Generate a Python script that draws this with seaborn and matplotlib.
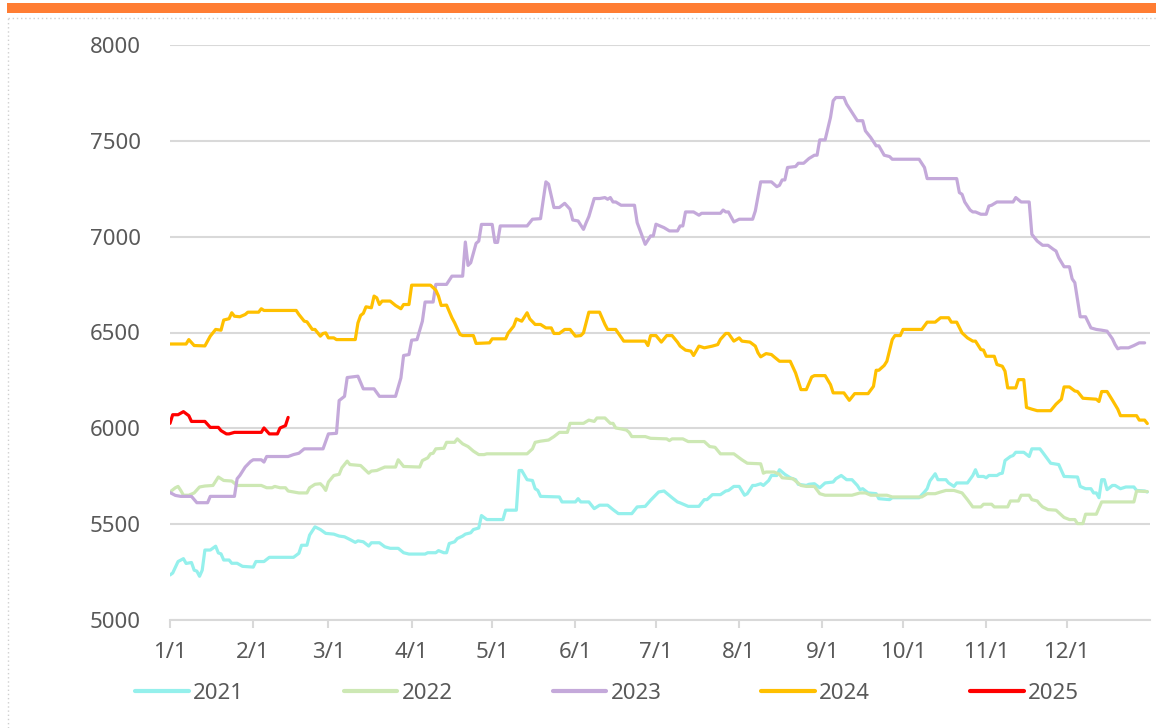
import matplotlib
matplotlib.use('Agg')
import matplotlib.pyplot as plt
from matplotlib.patches import Rectangle
from matplotlib.lines import Line2D
import seaborn as sns
import pandas as pd

# (day of year, price)
s2021 = [(0,5235),(1,5245),(3,5305),(5,5320),(6,5295),(8,5300),(9,5260),(10,5255),(11,5228),(12,5260),
         (13,5365),(15,5365),(17,5385),(18,5350),(19,5345),(20,5313),(22,5313),(23,5296),(25,5296),(27,5280),
         (31,5276),(32,5305),(35,5305),(37,5327),(46,5327),(48,5348),(49,5390),(51,5390),(52,5443),(54,5486),
         (56,5472),(58,5452),(61,5448),(63,5438),(65,5434),(67,5420),(69,5405),(70,5413),(72,5408),(74,5386),
         (75,5403),(78,5403),(80,5382),(82,5374),(85,5374),(87,5351),(89,5344),(95,5344),(96,5351),(99,5351),
         (100,5362),(102,5351),(103,5351),(104,5399),(106,5408),(107,5425),(109,5438),(110,5448),(112,5455),
         (113,5472),(115,5480),(116,5545),(118,5524),(124,5524),(125,5573),(129,5573),(130,5780),(131,5780),
         (133,5732),(135,5728),(136,5685),(137,5676),(138,5645),(145,5642),(146,5616),(151,5616),(152,5633),
         (153,5616),(156,5616),(158,5581),(160,5599),(163,5599),(165,5576),(167,5555),(172,5555),(174,5590),
         (177,5593),(179,5625),(182,5668),(184,5673),(187,5638),(189,5616),(190,5611),(193,5593),(197,5593),
         (199,5628),(200,5628),(202,5654),(205,5654),(207,5673),(208,5676),(210,5697),(212,5697),(214,5651),
         (215,5659),(217,5702),(218,5702),(220,5711),(221,5702),(223,5728),(224,5754),(226,5754),(227,5784),
         (229,5760),(231,5742),(233,5732),(234,5708),(237,5702),(238,5708),(240,5711),(242,5690),(244,5715),
         (247,5720),(248,5737),(250,5754),(252,5732),(254,5732),(256,5702),(257,5680),(258,5685),(260,5663),
         (263,5659),(264,5633),(268,5628),(269,5638),(279,5638),(281,5668),(282,5685),(283,5725),(285,5763),
         (286,5732),(289,5732),(290,5715),(292,5697),(293,5715),(297,5715),(299,5754),(300,5784),(301,5749),
         (303,5749),(304,5742),(305,5754),(308,5754),(309,5763),(310,5766),(311,5832),(313,5853),(314,5858),
         (315,5875),(318,5875),(320,5853),(321,5893),(324,5893),(325,5875),(328,5818),(331,5811),(333,5749),
         (338,5746),(339,5697),(341,5685),(343,5685),(344,5663),(345,5663),(346,5638),(347,5732),(348,5732),
         (349,5680),(351,5702),(352,5702),(354,5685),(356,5694),(359,5694),(360,5676),(363,5673),(364,5668)]

s2022 = [(0,5668),(2,5690),(3,5697),(4,5676),(5,5651),(7,5651),(9,5663),(11,5694),(13,5699),(16,5702),
         (18,5746),(20,5728),(23,5725),(25,5702),(34,5702),(36,5690),(38,5690),(39,5697),(41,5690),(43,5690),
         (44,5673),(46,5668),(48,5663),(51,5663),(52,5690),(54,5708),(56,5711),(57,5697),(58,5676),(59,5720),
         (61,5754),(63,5760),(64,5794),(66,5829),(67,5811),(71,5806),(74,5766),(75,5777),(77,5780),(80,5798),
         (84,5798),(85,5836),(87,5801),(93,5798),(94,5832),(96,5846),(97,5867),(98,5870),(99,5893),(102,5896),
         (103,5927),(106,5927),(107,5945),(109,5919),(111,5905),(113,5881),(115,5863),(117,5863),(118,5867),
         (133,5867),(135,5893),(136,5927),(138,5933),(141,5939),(143,5957),(145,5979),(148,5979),(149,6026),
         (154,6026),(156,6043),(158,6036),(159,6054),(162,6054),(164,6026),(165,6026),(166,6002),(168,5997),
         (170,5991),(171,5979),(172,5957),(177,5957),(179,5948),(185,5945),(186,5936),(187,5945),(191,5945),
         (193,5931),(199,5931),(201,5905),(203,5901),(205,5867),(210,5867),(213,5836),(215,5818),(220,5815),
         (221,5766),(222,5772),(225,5772),(227,5760),(228,5742),(232,5737),(235,5702),(237,5697),(240,5697),
         (242,5659),(244,5651),(254,5651),(257,5663),(259,5663),(261,5651),(267,5651),(269,5642),(280,5642),
         (282,5659),(285,5659),(287,5668),(289,5676),(292,5676),(295,5663),(297,5628),(299,5590),(302,5590),
         (303,5604),(306,5604),(307,5590),(312,5590),(313,5621),(316,5621),(317,5651),(320,5651),(321,5628),
         (323,5621),(324,5604),(325,5590),(327,5576),(330,5573),(333,5535),(335,5524),(337,5524),(338,5503),
         (340,5503),(341,5552),(345,5552),(347,5616),(359,5616),(360,5673),(364,5670)]

s2023 = [(0,5665),(2,5650),(4,5645),(8,5645),(10,5612),(14,5612),(15,5645),(24,5645),(25,5737),(26,5754),
         (28,5798),(30,5827),(31,5836),(34,5836),(35,5824),(36,5853),(44,5853),(46,5863),(48,5870),(50,5893),
         (57,5893),(59,5971),(62,5974),(63,6145),(65,6167),(66,6265),(70,6272),(72,6206),(76,6206),(78,6167),
         (84,6167),(86,6263),(87,6380),(89,6385),(90,6460),(92,6463),(94,6559),(95,6659),(98,6659),(99,6751),
         (103,6751),(105,6794),(109,6794),(110,6972),(111,6850),(112,6864),(114,6965),(115,6977),(116,7064),
         (120,7064),(121,6970),(122,6970),(123,7056),(133,7056),(135,7091),(138,7094),(140,7286),(141,7274),
         (143,7152),(145,7152),(147,7174),(149,7143),(150,7087),(152,7082),(154,7038),(155,7073),(156,7105),
         (158,7199),(160,7199),(162,7204),(163,7195),(164,7204),(165,7181),(166,7181),(168,7164),(173,7164),
         (174,7073),(177,6960),(179,7004),(180,7004),(181,7065),(184,7047),(186,7030),(189,7030),(190,7056),
         (191,7056),(192,7129),(195,7129),(197,7112),(198,7122),(205,7122),(206,7139),(207,7129),(208,7129),
         (210,7077),(212,7091),(217,7091),(218,7134),(220,7286),(224,7286),(226,7261),(227,7268),(228,7296),
         (229,7296),(230,7361),(233,7366),(234,7383),(236,7383),(238,7408),(240,7425),(241,7425),(242,7505),
         (244,7505),(246,7622),(247,7709),(248,7726),(251,7726),(252,7692),(254,7648),(256,7605),(258,7605),
         (259,7552),(261,7517),(263,7474),(264,7474),(266,7425),(268,7418),(269,7404),(279,7404),(281,7361),
         (282,7303),(293,7303),(294,7230),(295,7221),(296,7181),(298,7139),(299,7129),(300,7129),(302,7117),
         (304,7117),(305,7160),(306,7164),(308,7181),(314,7181),(315,7204),(317,7181),(320,7181),(321,7012),
         (323,6977),(325,6955),(327,6955),(329,6934),(330,6925),(331,6890),(333,6843),(335,6843),(336,6780),
         (337,6760),(339,6582),(341,6582),(343,6524),(345,6516),(347,6512),(349,6507),(351,6467),(352,6437),
         (353,6415),(354,6420),(357,6420),(359,6432),(361,6446),(363,6446)]

s2024 = [(0,6440),(6,6440),(7,6463),(9,6432),(13,6430),(15,6481),(17,6516),(19,6512),(20,6565),(22,6572),
         (23,6603),(24,6585),(26,6582),(28,6594),(29,6606),(33,6606),(34,6624),(35,6615),(47,6615),(48,6594),
         (50,6559),(51,6556),(53,6516),(54,6516),(56,6481),(57,6495),(58,6498),(59,6472),(61,6472),(62,6463),
         (69,6463),(70,6550),(71,6589),(72,6600),(73,6634),(75,6629),(76,6690),(77,6681),(78,6646),(79,6664),
         (82,6664),(84,6641),(86,6624),(87,6646),(89,6646),(90,6747),(97,6747),(99,6721),(100,6690),(101,6641),
         (103,6643),(105,6577),(106,6551),(108,6490),(109,6484),(113,6484),(114,6443),(119,6446),(120,6467),
         (125,6467),(126,6498),(128,6533),(129,6571),(131,6559),(133,6603),(134,6571),(136,6542),(138,6542),
         (140,6524),(142,6524),(143,6495),(145,6495),(147,6516),(149,6516),(151,6481),(153,6484),(154,6498),
         (156,6606),(160,6606),(162,6542),(163,6516),(166,6516),(169,6455),(177,6455),(178,6432),(179,6484),
         (181,6484),(183,6450),(185,6484),(187,6484),(189,6450),(190,6429),(192,6408),(194,6403),(195,6380),
         (197,6429),(199,6420),(202,6429),(204,6437),(205,6464),(207,6495),(208,6495),(210,6455),(212,6472),
         (213,6455),(216,6450),(218,6429),(219,6394),(220,6373),(222,6390),(224,6385),(225,6373),(227,6350),
         (231,6350),(233,6289),(235,6202),(237,6202),(239,6268),(240,6275),(244,6275),(246,6228),(247,6185),
         (251,6185),(253,6146),(255,6181),(260,6181),(262,6219),(263,6303),(264,6303),(266,6328),(267,6350),
         (269,6463),(270,6484),(272,6484),(273,6516),(280,6516),(282,6554),(285,6554),(287,6577),(290,6577),
         (291,6554),(293,6554),(295,6498),(297,6472),(299,6455),(300,6455),(302,6411),(303,6408),(304,6376),
         (307,6376),(308,6333),(310,6324),(311,6298),(312,6211),(315,6211),(316,6254),(318,6254),(319,6109),
         (321,6100),(323,6092),(328,6092),(330,6126),(332,6152),(333,6216),(335,6216),(337,6195),(338,6192),
         (340,6157),(345,6152),(346,6140),(347,6192),(349,6192),(351,6147),(353,6100),(354,6066),(360,6066),
         (361,6043),(363,6043),(364,6025)]

s2025 = [(0,6026),(1,6071),(3,6071),(5,6087),(7,6066),(8,6036),(13,6036),(15,6005),(18,6005),(19,5988),
         (21,5971),(22,5971),(24,5979),(34,5979),(35,6002),(37,5971),(40,5971),(41,6002),(43,6014),(44,6057)]

years = ['2021', '2022', '2023', '2024', '2025']
colors = ['#95F0EC', '#CDE8B4', '#C4A9DA', '#FFC000', '#FF0000']
month_days = [0, 31, 59, 90, 120, 151, 181, 212, 243, 273, 304, 334]
month_labels = ['1/1', '2/1', '3/1', '4/1', '5/1', '6/1', '7/1', '8/1', '9/1', '10/1', '11/1', '12/1']
y_ticks = [5000, 5500, 6000, 6500, 7000, 7500, 8000]

frames = []
for yr, s in zip(years, [s2021, s2022, s2023, s2024, s2025]):
    df = pd.DataFrame(s, columns=['day', 'price'])
    df['year'] = yr
    frames.append(df)
data = pd.concat(frames, ignore_index=True)

sns.set_theme(style='white')
plt.rcParams['font.family'] = ['Noto Sans', 'DejaVu Sans']
txt = '#595959'
grid_c = '#D9D9D9'
fs = 16

fig = plt.figure(figsize=(11.56, 7.28), dpi=100)
ax = fig.add_axes([170/1156, 1 - 620/728, 980/1156, 575/728])

sns.lineplot(data=data, x='day', y='price', hue='year', palette=dict(zip(years, colors)),
             sort=False, estimator=None, linewidth=2.3, ax=ax)

ax.set_xlim(0, 365)
ax.set_ylim(5000, 8000)
ax.set_yticks(y_ticks)
ax.set_xticks(month_days)
ax.set_xticklabels(month_labels)
ax.set_xlabel('')
ax.set_ylabel('')
ax.yaxis.grid(True, color=grid_c, linewidth=1.5)
ax.set_axisbelow(True)
for side in ['top', 'right', 'left']:
    ax.spines[side].set_visible(False)
ax.spines['bottom'].set_color(grid_c)
ax.spines['bottom'].set_linewidth(1.5)
ax.tick_params(axis='y', length=0, pad=21, labelsize=fs, labelcolor=txt)
ax.tick_params(axis='x', bottom=True, length=6, width=1.5, color=grid_c, direction='out',
               pad=10, labelsize=fs, labelcolor=txt)

sns.move_legend(ax, 'center', bbox_to_anchor=(0.446, -0.127), ncol=5, frameon=False, title=None,
                fontsize=fs, handlelength=2.4, handletextpad=0.2, columnspacing=4.5)
for t in ax.get_legend().get_texts():
    t.set_color(txt)
for h in ax.get_legend().legend_handles:
    h.set_linewidth(3)

# orange header bar and dotted frame (top and left edges only)
fig.patches.append(Rectangle((7/1156, 1 - 13/728), 1 - 7/1156, 10/728, transform=fig.transFigure,
                             facecolor='#FF7D33', edgecolor='none'))
frame_style = dict(transform=fig.transFigure, color='#CFCFCF', linestyle=(0, (1, 2)), linewidth=1)
fig.lines.append(Line2D([8/1156, 1], [1 - 18/728, 1 - 18/728], **frame_style))
fig.lines.append(Line2D([8/1156, 8/1156], [0, 1 - 18/728], **frame_style))

fig.savefig('out.png', dpi=100)
